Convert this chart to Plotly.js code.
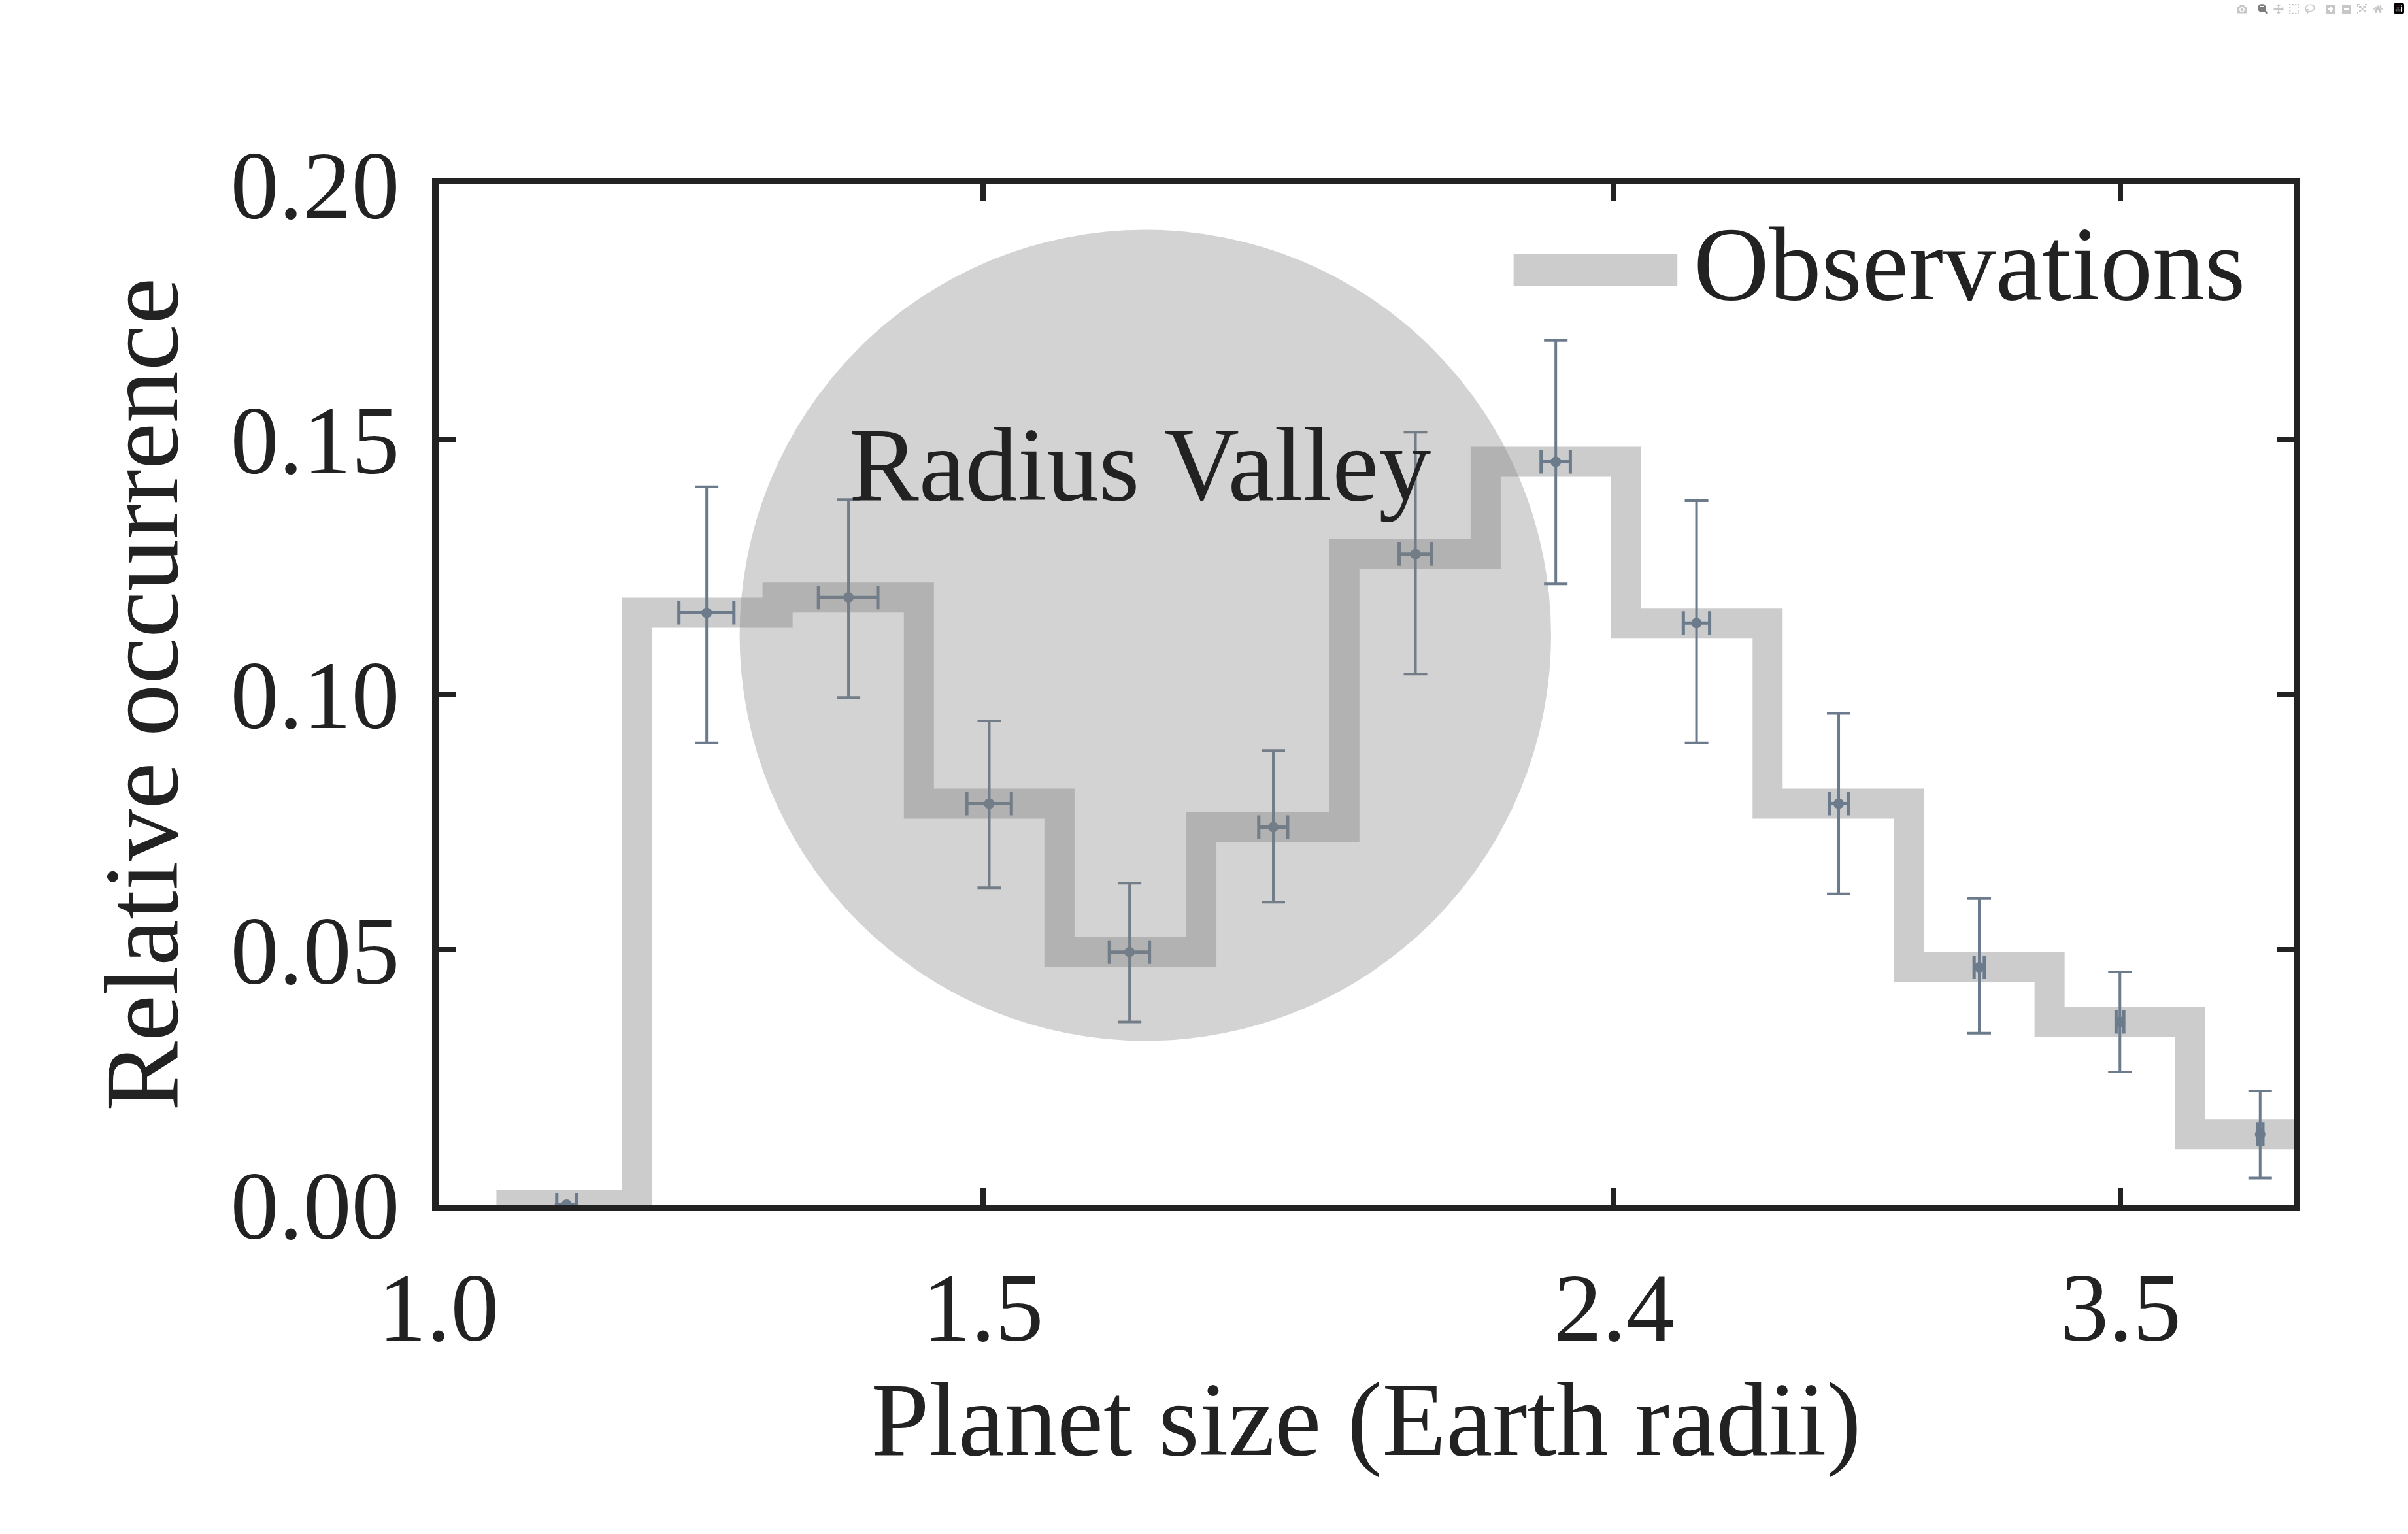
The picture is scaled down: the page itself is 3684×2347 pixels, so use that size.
<!DOCTYPE html>
<html><head><meta charset="utf-8">
<script src="https://cdn.plot.ly/plotly-3.0.1.min.js"></script>
<style>body{margin:0}</style></head><body>
<div id="c" style="width:3684px;height:2347px"></div>
<script>
const binCenters = [1.100, 1.221, 1.357, 1.507, 1.673, 1.862, 2.070, 2.298, 2.552, 2.837, 3.150, 3.498, 3.883];
const occurrence = [0.000, 0.116, 0.119, 0.0786, 0.0495, 0.074, 0.1275, 0.1456, 0.114, 0.0786, 0.0465, 0.0358, 0.0138];
const errUpper = [0, 0.0247, 0.0192, 0.0162, 0.0135, 0.015, 0.0239, 0.0238, 0.024, 0.0177, 0.0135, 0.0098, 0.0085];
const errLower = [0, 0.0255, 0.0196, 0.0165, 0.0137, 0.0147, 0.0235, 0.0239, 0.0235, 0.0177, 0.0129, 0.0098, 0.0086];
const errX = [0.008, 0.025, 0.03, 0.025, 0.025, 0.02, 0.025, 0.025, 0.025, 0.02, 0.012, 0.01, 0.008];
const yTicks = [0, 0.05, 0.10, 0.15, 0.20];
const xTicks = [1.0, 1.5, 2.4, 3.5];
const half = Math.pow(10, 0.0227);
const stepX = [binCenters[0]/half, ...binCenters, binCenters[binCenters.length-1]*half];
const stepY = [occurrence[0], ...occurrence, occurrence[occurrence.length-1]];
const font = "Liberation Serif, DejaVu Serif, serif";
const errCol = '#6b7b8c';
Plotly.newPlot('c', [
 {x: stepX, y: stepY, mode: 'lines', line: {shape: 'hvh', color: '#cccccc', width: 46}, cliponaxis: false, showlegend: false, hoverinfo: 'skip'},
 {x: binCenters, y: occurrence, mode: 'markers', marker: {color: errCol, size: 16}, cliponaxis: false, showlegend: false,
  error_y: {type: 'data', symmetric: false, array: errUpper, arrayminus: errLower, color: errCol, thickness: 4, width: 18},
  error_x: {type: 'data', array: errX, color: errCol, thickness: 5, width: 18}}
], {
 width: 3684, height: 2347, margin: {l: 671, r: 175, t: 282, b: 504},
 paper_bgcolor: 'white', plot_bgcolor: 'white', showlegend: false,
 font: {family: font, color: '#222', size: 148},
 xaxis: {type: 'log', range: [0, 0.6], tickvals: xTicks, ticktext: xTicks.map(v => v.toFixed(1)),
   showgrid: false, zeroline: false, showline: true, linecolor: '#222', linewidth: 10, mirror: 'ticks',
   ticks: 'inside', ticklen: 26, tickwidth: 8, tickcolor: '#222', ticklabelstandoff: 20,
   title: {text: 'Planet size (Earth radii)', font: {size: 160}, standoff: 30}},
 yaxis: {range: [0, 0.2], tickvals: yTicks, ticktext: yTicks.map(v => v.toFixed(2)),
   showgrid: false, zeroline: false, showline: true, linecolor: '#222', linewidth: 10, mirror: 'ticks',
   ticks: 'inside', ticklen: 26, tickwidth: 8, tickcolor: '#222', ticklabelstandoff: 20,
   title: {text: 'Relative occurrence', font: {size: 160}, standoff: 30}},
 shapes: [
  {type: 'circle', xref: 'paper', yref: 'paper', x0: 0.1623, x1: 0.5997, y0: 0.1605, y1: 0.9555,
   fillcolor: 'rgba(128,128,128,0.35)', line: {width: 0}, layer: 'above'},
  {type: 'line', xref: 'paper', yref: 'paper', x0: 0.5795, x1: 0.6678, y0: 0.916, y1: 0.916,
   line: {color: '#cccccc', width: 50}}
 ],
 annotations: [
  {text: 'Radius Valley', xref: 'paper', yref: 'paper', x: 0.378, y: 0.725, yanchor: 'middle', showarrow: false, font: {size: 160}},
  {text: 'Observations', xref: 'paper', yref: 'paper', x: 0.676, y: 0.922, xanchor: 'left', yanchor: 'middle', showarrow: false, font: {size: 160}}
 ]
});
</script></body></html>
